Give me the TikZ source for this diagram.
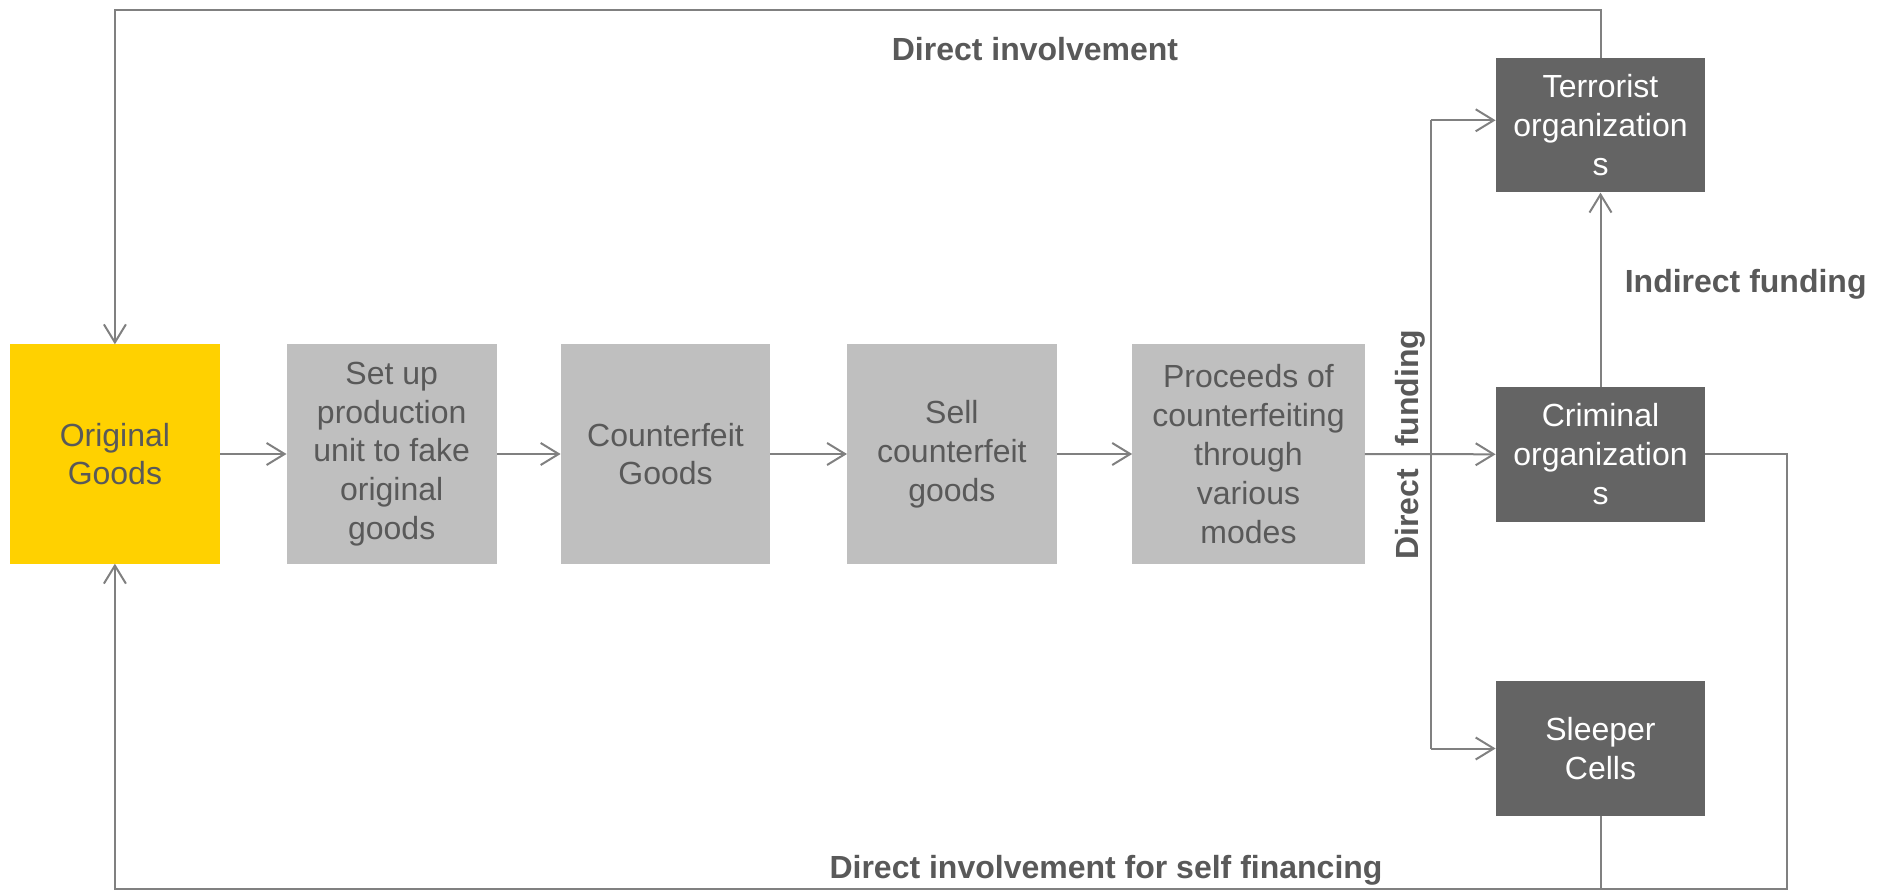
\documentclass[tikz,border=0pt]{standalone}
\usepackage{fontspec}
\setmainfont{Liberation Sans}
\usetikzlibrary{arrows.meta}
\definecolor{yel}{HTML}{FFD100}
\definecolor{lgrey}{HTML}{BFBFBF}
\definecolor{dgrey}{HTML}{646464}
\definecolor{txtgrey}{HTML}{595959}
\definecolor{linegrey}{HTML}{808080}
\tikzset{
  box/.style={inner sep=0pt, align=center, font=\fontsize{32}{38.8}\selectfont},
  greybox/.style={box, fill=lgrey, text=txtgrey, minimum width=210pt, minimum height=219pt},
  darkbox/.style={box, fill=dgrey, text=white, minimum width=209.4pt, minimum height=134.5pt},
  conn/.style={draw=linegrey, line width=2pt},
  arr/.style={conn, -{Straight Barb[length=18pt,width=22pt,line width=2pt]}},
  lbl/.style={inner sep=0pt, text=txtgrey, font=\fontsize{32}{38}\selectfont\bfseries}
}
\begin{document}
\begin{tikzpicture}[x=1pt,y=-1pt]
\useasboundingbox (0,0) rectangle (1887,890);
\node[greybox, fill=yel, minimum width=210.6pt] (orig) at (114.9,454) {Original\\Goods};
\node[greybox] (setup) at (391.7,454) {Set up\\production\\unit to fake\\original\\goods};
\node[greybox, minimum width=209.4pt] (cf) at (665.5,454) {Counterfeit\\Goods};
\node[greybox, minimum width=209.4pt] (sell) at (951.9,454) {Sell\\counterfeit\\goods};
\node[greybox, minimum width=232.3pt] (proc) at (1248.5,454) {Proceeds of\\counterfeiting\\through\\various\\modes};
\node[darkbox] (terr) at (1600.5,125.2) {Terrorist\\organization\\s};
\node[darkbox] (crim) at (1600.5,454.3) {Criminal\\organization\\s};
\node[darkbox] (sleep) at (1600.5,748.5) {Sleeper\\Cells};

\draw[arr] (orig.east) -- (setup.west);
\draw[arr] (setup.west -| setup.east) -- (cf.west);
\draw[arr] (cf.east) -- (sell.west);
\draw[arr] (sell.east) -- (proc.west);
\draw[arr] (proc.east) -- (crim.west);

\coordinate (vt) at (1430.8,120.3);
\coordinate (vb) at (1430.8,748.5);
\draw[conn] (vt) -- (vb);
\draw[arr] (vt) -- (vt -| terr.west);
\draw[arr] (vb) -- (sleep.west);

\draw[arr] (crim.north) -- (terr.south);

\coordinate (tl) at (114.9,9.6);
\draw[arr] (terr.north) |- (tl) -- (orig.north);

\coordinate (br) at (1787,889);
\draw[arr] (crim.east) -| (br) -| (orig.south);
\draw[conn] (sleep.south) -- (sleep.south |- br);

\node[lbl] (l1) at (1035,49) {Direct involvement};
\node[lbl, anchor=west] (l2) at (1624.6,284) {Indirect funding};
\node[lbl, rotate=90] (l3) at (1410,444.5) {Direct\hspace{22pt}funding};
\node[lbl] (l4) at (1106,870) {Direct involvement for self financing};
\end{tikzpicture}
\end{document}
